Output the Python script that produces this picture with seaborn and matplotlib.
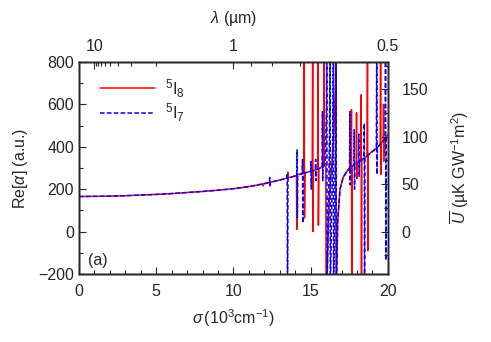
import numpy as np
import pandas as pd
import seaborn as sns
import matplotlib
matplotlib.use("Agg")
from matplotlib import pyplot as plt
from matplotlib.ticker import MultipleLocator, FixedLocator

# 5I8 (red, solid) -- sigma in 10^3 cm^-1, Re[alpha] in a.u.
sigma_i8 = [0, 1, 2, 3, 4, 5, 6, 7, 8, 9, 10, 11, 11.9, 11.92, 11.94, 12.5, 13.0,
            13.5, 13.52, 13.54, 14.0, 14.08, 14.1, 14.12, 14.4, 14.55, 14.58, 14.6, 14.63,
            14.9, 15.1, 15.13, 15.15, 15.18, 15.45, 15.48, 15.5, 15.53, 15.7, 15.86, 15.88,
            15.9, 15.98, 16.0, 16.02, 16.2, 16.35, 16.5, 16.6, 16.63, 16.65, 16.75, 16.9,
            17.1, 17.35, 17.55, 17.62, 17.64, 17.66, 17.68, 17.95, 17.97, 17.99, 18.01,
            18.25, 18.27, 18.29, 18.31, 18.65, 18.68, 18.7, 18.72, 19.0, 19.3, 19.5,
            19.53, 19.55, 19.57, 19.7, 19.72, 19.74, 19.85, 20.0]
alpha_i8 = [165, 166, 167, 169, 172, 175, 179, 184, 189, 195, 202, 212, 224, 215, 225, 234, 243,
            252, 280, 253, 262, 265, 10, 268, 272, 275, 900, 64, 277,
            282, 285, 900, 0, 288, 294, 900, 30, 297, 303, 310, 900,
            310, 320, -300, -300, 150, 300, 450, 700, 900, -300, 50, 200,
            255, 285, 300, 305, 575, -300, 308, 320, 560, 250, 322,
            335, 645, -300, 338, 355, 900, -90, 360, 380, 395, 410,
            900, 270, 415, 428, 600, 330, 445, 455]

# 5I7 (blue, dashed)
sigma_i7 = [0, 1, 2, 3, 4, 5, 6, 7, 8, 9, 10, 11, 12, 12.33, 12.35, 12.37, 12.39, 13.0,
            13.45, 13.48, 13.5, 13.53, 14.0, 14.1, 14.12, 14.14, 14.16, 14.45, 14.47, 14.49,
            14.51, 14.8, 15.0, 15.02, 15.04, 15.06, 15.3, 15.32, 15.34, 15.36, 15.74, 15.76,
            15.78, 15.8, 15.95, 16.03, 16.05, 16.06, 16.15, 16.22, 16.26, 16.27, 16.36, 16.43,
            16.47, 16.48, 16.56, 16.62, 16.65, 16.66, 16.75, 16.9, 17.1, 17.35, 17.5, 17.52,
            17.54, 17.56, 17.58, 17.8, 17.82, 17.84, 17.86, 18.1, 18.12, 18.14, 18.16, 18.45,
            18.47, 18.49, 18.51, 18.9, 19.25, 19.28, 19.3, 19.32, 19.6, 19.82, 19.85, 19.87,
            19.89, 20.0]
alpha_i7 = [165, 166, 167, 169, 172, 175, 179, 184, 189, 195, 202, 212, 226, 232, 255, 210, 233, 243,
            251, 275, -300, 252, 262, 264, 385, 64, 266, 272, 340, 40,
            274, 280, 284, 330, 200, 286, 290, 340, 240, 292, 302, 565,
            240, 305, 330, 600, 900, -300, 100, 450, 900, -300, 100, 450,
            900, -300, 100, 500, 900, -300, 50, 200, 255, 285, 298, 300,
            565, 220, 302, 312, 480, 200, 315, 327, 460, 260, 330, 345,
            510, -300, 350, 370, 392, 900, 270, 397, 420, 438, 900, -135,
            445, 455]

# top axis: wavelength in micrometres
lam_major = [10, 1, 0.5]
lam_major_labels = ["10", "1", "0.5"]
lam_minor = [9, 8, 7, 6, 5, 4, 3, 2, 0.9, 0.8, 0.7, 0.6]

# right axis: U = alpha / conv
u_ticks = [0, 50, 100, 150]
conv = 4.47

sns.set_style("ticks")
plt.rcParams["font.family"] = ["Liberation Sans", "DejaVu Sans"]
plt.rcParams["mathtext.fontset"] = "custom"
plt.rcParams["mathtext.rm"] = "Liberation Sans"
plt.rcParams["mathtext.it"] = "Liberation Sans:italic"
plt.rcParams["font.size"] = 11

df8 = pd.DataFrame({"sigma": sigma_i8, "alpha": alpha_i8})
df7 = pd.DataFrame({"sigma": sigma_i7, "alpha": alpha_i7})

fig = plt.figure(figsize=(4.91, 3.42), dpi=100)
ax = fig.add_axes([0.161, 0.199, 0.629, 0.620])

sns.lineplot(data=df8, x="sigma", y="alpha", ax=ax, sort=False, estimator=None,
             color="#ff0000", lw=1.1, label="$^5$I$_8$")
sns.lineplot(data=df7, x="sigma", y="alpha", ax=ax, sort=False, estimator=None,
             color="#0000ff", lw=1.1, linestyle=(0, (3, 1.5)), label="$^5$I$_7$")

ax.set_xlim(0, 20)
ax.set_ylim(-200, 800)
ax.xaxis.set_major_locator(MultipleLocator(5))
ax.xaxis.set_minor_locator(MultipleLocator(1))
ax.yaxis.set_major_locator(MultipleLocator(200))
ax.yaxis.set_minor_locator(MultipleLocator(100))
ax.tick_params(which="both", direction="in", labelsize=11.5, width=0.8)
ax.tick_params(which="major", length=5)
ax.tick_params(which="minor", length=3)
ax.tick_params(axis="x", pad=7)
ax.set_xlabel(r"$\sigma\,$(10$^3$cm$^{-1}$)", fontsize=11.5, labelpad=6)
ax.set_ylabel(r"Re[$\alpha$] (a.u.)", fontsize=11.5, labelpad=6)
ax.yaxis.set_major_formatter(matplotlib.ticker.FuncFormatter(
    lambda v, p: f"{int(v)}".replace("-", "\u2212")))
ax.text(0.6, -160, "(a)", fontsize=11.5)

leg = ax.legend(loc="upper left", frameon=False, handlelength=3.3, fontsize=12,
                bbox_to_anchor=(0.02, 1.0), labelspacing=0.1, handletextpad=0.6)

top = ax.twiny()
top.set_xlim(ax.get_xlim())
top.xaxis.set_major_locator(FixedLocator([10 / l for l in lam_major]))
top.xaxis.set_minor_locator(FixedLocator([10 / l for l in lam_minor]))
top.set_xticklabels(lam_major_labels)
top.tick_params(which="both", direction="in", labelsize=11.5, width=0.8)
top.tick_params(which="major", length=5)
top.tick_params(which="minor", length=3)
top.tick_params(axis="x", pad=6)
top.set_xlabel(r"$\lambda$ (µm)", fontsize=11.5, labelpad=11)

right = ax.twinx()
right.set_ylim(-200 / conv, 800 / conv)
right.yaxis.set_major_locator(FixedLocator(u_ticks))
right.yaxis.set_minor_locator(MultipleLocator(25))
right.tick_params(which="both", direction="in", labelsize=11.5, width=0.8)
right.tick_params(which="major", length=5)
right.tick_params(which="minor", length=3)
right.tick_params(axis="y", pad=10)
right.set_ylabel(r"$\overline{U}$ (µK GW$^{-1}$m$^2$)", fontsize=11.5, labelpad=14)

for a in (ax, top, right):
    for s in a.spines.values():
        s.set_linewidth(1.0)

fig.savefig("out.png", dpi=100)
